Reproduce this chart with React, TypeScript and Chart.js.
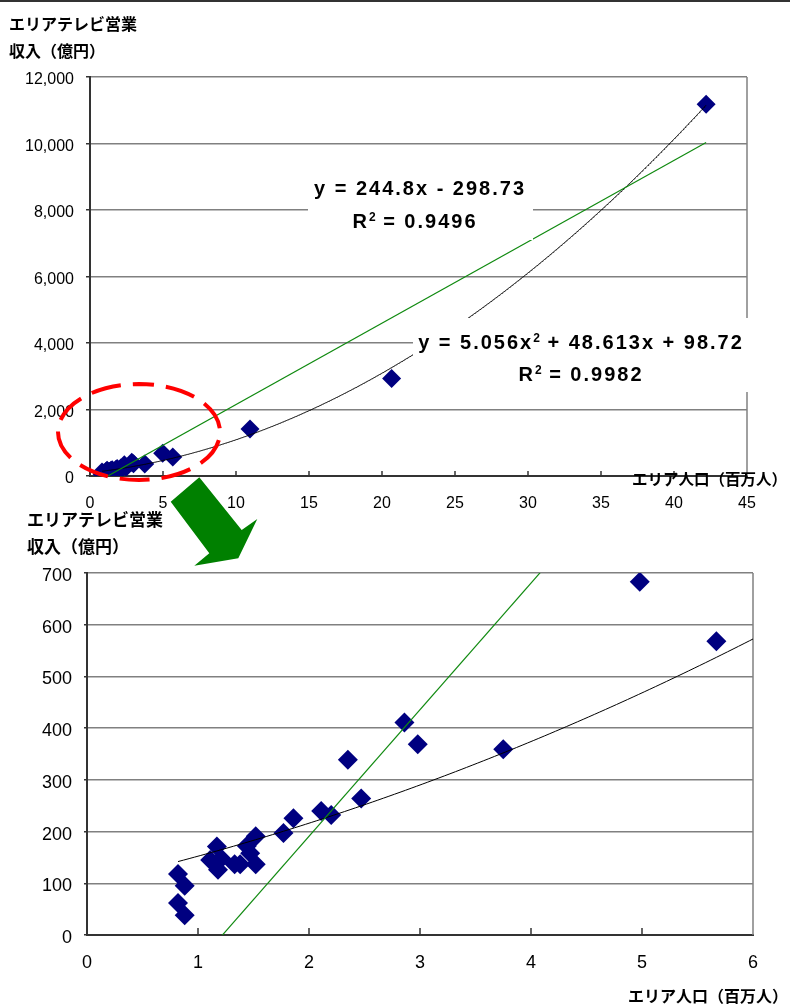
import React, { useEffect, useRef } from "react";
import { Chart, registerables } from "chart.js";

Chart.register(...registerables);

// エリア人口（百万人）
const population = [
  0.82, 0.88, 0.82, 0.88, 1.17, 1.11, 1.21, 1.18, 1.33, 1.38, 1.44, 1.47, 1.52, 1.52,
  1.77, 1.86, 2.11, 2.2, 2.35, 2.47, 2.86, 2.98, 3.75, 4.98, 5.67, 10.96, 20.66, 42.2,
];
// エリアテレビ営業収入（億円）
const revenue = [
  118, 95, 62, 38, 171, 145, 148, 126, 137, 137, 172, 158, 191, 137,
  197, 226, 240, 232, 339, 264, 411, 369, 359, 683, 568, 1410, 2930, 11180,
];

// regression results
const linearCoef = [244.8, -298.73]; // slope, intercept
const linearR2 = "0.9496";
const quadCoef = [5.056, 48.613, 98.72]; // a, b, c
const quadR2 = "0.9982";

// axis ticks
const overviewXTicks = [0, 5, 10, 15, 20, 25, 30, 35, 40, 45];
const overviewYTicks = [0, 2000, 4000, 6000, 8000, 10000, 12000];
const detailXTicks = [0, 1, 2, 3, 4, 5, 6];
const detailYTicks = [0, 100, 200, 300, 400, 500, 600, 700];

const yTitle = ["エリアテレビ営業", "収入（億円）"];
const xTitle = "エリア人口（百万人）";

const W = 790;
const H = 1005;
const NAVY = "#000080";
const GREEN = "#108a10";
const GRID = "#808080";
const AXIS = "#333333";
const LATIN = '"Liberation Sans", Arial, sans-serif';
const JP = '"Noto Sans CJK JP", sans-serif';

const points = population.map((x, i) => ({ x, y: revenue[i] }));
const xMin = Math.min(...population);
const xMax = Math.max(...population);

const linearAt = (x: number) => linearCoef[0] * x + linearCoef[1];
const quadAt = (x: number) => quadCoef[0] * x * x + quadCoef[1] * x + quadCoef[2];

function sampleCurve(fn: (x: number) => number, step: number) {
  const out: { x: number; y: number }[] = [];
  for (let x = xMin; x < xMax; x += step) out.push({ x, y: fn(x) });
  out.push({ x: xMax, y: fn(xMax) });
  return out;
}

const linearLine = [
  { x: xMin, y: linearAt(xMin) },
  { x: xMax, y: linearAt(xMax) },
];
const quadLine = sampleCurve(quadAt, 0.05);

type Run = { text: string; sup?: boolean };

function drawRuns(ctx: CanvasRenderingContext2D, runs: Run[], cx: number, cy: number) {
  ctx.save();
  ctx.textBaseline = "middle";
  ctx.textAlign = "left";
  ctx.fillStyle = "#000";
  const setFont = (sup?: boolean) => {
    ctx.font = sup ? `bold 12px ${LATIN}` : `bold 20px ${LATIN}`;
    (ctx as any).letterSpacing = sup ? "0px" : "2px";
  };
  const widths = runs.map((r) => {
    setFont(r.sup);
    return ctx.measureText(r.text).width;
  });
  const total = widths.reduce((a, b) => a + b, 0);
  let x = cx - total / 2;
  runs.forEach((r, i) => {
    setFont(r.sup);
    ctx.fillText(r.text, x, r.sup ? cy - 4.5 : cy);
    x += widths[i];
  });
  ctx.restore();
}

function drawFrame(chart: Chart, innerTick: number, tickValues: number[]) {
  const { ctx, chartArea } = chart;
  const xs = chart.scales.x;
  ctx.save();
  ctx.strokeStyle = GRID;
  ctx.lineWidth = 1.5;
  ctx.beginPath();
  ctx.moveTo(chartArea.right, chartArea.top);
  ctx.lineTo(chartArea.right, chartArea.bottom);
  ctx.stroke();
  ctx.strokeStyle = AXIS;
  ctx.lineWidth = 1.5;
  tickValues.forEach((v) => {
    const px = xs.getPixelForValue(v);
    if (px <= chartArea.left + 1 || px >= chartArea.right - 1) return;
    ctx.beginPath();
    ctx.moveTo(px, chartArea.bottom);
    ctx.lineTo(px, chartArea.bottom - innerTick);
    ctx.stroke();
  });
  ctx.restore();
}

function drawTitles(
  ctx: CanvasRenderingContext2D,
  yLeft: number,
  yTop: number,
  ySize: number,
  xLeft: number,
  xMid: number,
  xSize: number
) {
  ctx.save();
  ctx.fillStyle = "#000";
  ctx.textBaseline = "middle";
  ctx.textAlign = "left";
  ctx.font = `bold ${ySize}px ${JP}`;
  ctx.fillText(yTitle[0], yLeft, yTop);
  ctx.fillText(yTitle[1], yLeft, yTop + 27);
  ctx.font = `bold ${xSize}px ${JP}`;
  ctx.fillText(xTitle, xLeft, xMid);
  ctx.restore();
}

const overviewDecor = {
  id: "overviewDecor",
  beforeDatasetsDraw(chart: Chart) {
    drawFrame(chart, 5, overviewXTicks);
  },
  afterDatasetsDraw(chart: Chart) {
    const { ctx } = chart;
    ctx.save();
    ctx.fillStyle = "#fff";
    ctx.fillRect(308, 170, 225, 70);
    ctx.fillRect(413, 318, 345, 74);
    ctx.restore();
    drawRuns(ctx, [{ text: `y = ${linearCoef[0]}x - ${Math.abs(linearCoef[1])}` }], 420, 189);
    drawRuns(ctx, [{ text: "R" }, { text: "2", sup: true }, { text: ` = ${linearR2}` }], 415, 222.5);
    drawRuns(
      ctx,
      [
        { text: `y = ${quadCoef[0]}x` },
        { text: "2", sup: true },
        { text: ` + ${quadCoef[1]}x + ${quadCoef[2]}` },
      ],
      581,
      343.5
    );
    drawRuns(ctx, [{ text: "R" }, { text: "2", sup: true }, { text: ` = ${quadR2}` }], 581, 375.5);
  },
  afterDraw(chart: Chart) {
    const { ctx } = chart;
    drawTitles(ctx, 9, 24, 16, 632, 479, 15.5);

    ctx.save();
    // rule across the top of the page
    ctx.strokeStyle = AXIS;
    ctx.lineWidth = 2;
    ctx.beginPath();
    ctx.moveTo(0, 1);
    ctx.lineTo(W, 1);
    ctx.stroke();

    // dashed ellipse around the small areas
    ctx.strokeStyle = "#ff0000";
    ctx.lineWidth = 4;
    ctx.setLineDash([30, 12]);
    ctx.lineDashOffset = 15;
    ctx.beginPath();
    ctx.ellipse(139, 432, 81, 48, 0, -Math.PI / 2, Math.PI * 1.5);
    ctx.stroke();
    ctx.setLineDash([]);

    // arrow pointing to the enlarged view
    ctx.fillStyle = "#008000";
    ctx.beginPath();
    const arrow = [
      [170.7, 501.7],
      [199.3, 477.3],
      [241.7, 530],
      [257.3, 519],
      [238.3, 558.3],
      [194.3, 565.7],
      [209.3, 553.3],
    ];
    arrow.forEach(([x, y], i) => (i ? ctx.lineTo(x, y) : ctx.moveTo(x, y)));
    ctx.closePath();
    ctx.fill();
    ctx.restore();
  },
};

const detailDecor = {
  id: "detailDecor",
  beforeDatasetsDraw(chart: Chart) {
    drawFrame(chart, 7, detailXTicks);
  },
  afterDraw(chart: Chart) {
    drawTitles(chart.ctx, 27, 520, 17, 628, 996, 16);
  },
};

function makeConfig(
  xMaxAxis: number,
  yMaxAxis: number,
  xTicks: number[],
  yTicks: number[],
  pad: { top: number; right: number; bottom: number },
  yWidth: number,
  xHeight: number,
  fontSize: number,
  xPad: number,
  yPad: number,
  tickLen: number,
  radius: number,
  plugin: any
): any {
  return {
    type: "scatter",
    data: {
      datasets: [
        {
          data: linearLine,
          showLine: true,
          borderColor: GREEN,
          borderWidth: 1.2,
          pointRadius: 0,
          order: 1,
        },
        {
          data: quadLine,
          showLine: true,
          borderColor: "#000",
          borderWidth: 1,
          pointRadius: 0,
          order: 1,
        },
        {
          data: points,
          pointStyle: "rectRot",
          pointRadius: radius,
          backgroundColor: NAVY,
          borderColor: NAVY,
          borderWidth: 0,
          order: 2,
        },
      ],
    },
    options: {
      responsive: false,
      animation: false,
      events: [],
      layout: { padding: { left: 0, ...pad } },
      plugins: { legend: { display: false }, tooltip: { enabled: false } },
      scales: {
        x: {
          type: "linear",
          min: 0,
          max: xMaxAxis,
          afterBuildTicks: (s: any) => {
            s.ticks = xTicks.map((value) => ({ value }));
          },
          afterFit: (s: any) => {
            s.height = xHeight;
          },
          grid: { drawOnChartArea: false, drawTicks: false },
          border: { color: AXIS, width: 2 },
          ticks: {
            padding: xPad,
            color: "#000",
            maxRotation: 0,
            autoSkip: false,
            font: { family: LATIN, size: fontSize },
          },
        },
        y: {
          type: "linear",
          min: 0,
          max: yMaxAxis,
          afterBuildTicks: (s: any) => {
            s.ticks = yTicks.map((value) => ({ value }));
          },
          afterFit: (s: any) => {
            s.width = yWidth;
          },
          grid: { color: GRID, lineWidth: 1.5, tickLength: tickLen, tickColor: AXIS },
          border: { color: AXIS, width: 2 },
          ticks: {
            padding: yPad,
            labelOffset: 3,
            color: "#000",
            autoSkip: false,
            font: { family: LATIN, size: fontSize },
            callback: (v: number) => v.toLocaleString("en-US"),
          },
        },
      },
    },
    plugins: [plugin],
  };
}

export default function App() {
  const overviewRef = useRef<HTMLCanvasElement>(null);
  const detailRef = useRef<HTMLCanvasElement>(null);

  useEffect(() => {
    const overview = new Chart(
      overviewRef.current!,
      makeConfig(
        45,
        12000,
        overviewXTicks,
        overviewYTicks,
        { top: 77, right: 43, bottom: H - 476 - 64 },
        90,
        64,
        16,
        18,
        12,
        4,
        9.5,
        overviewDecor
      )
    );
    const detail = new Chart(
      detailRef.current!,
      makeConfig(
        6,
        700,
        detailXTicks,
        detailYTicks,
        { top: 573, right: 37, bottom: 0 },
        87,
        70,
        18,
        17,
        12,
        3,
        10,
        detailDecor
      )
    );
    return () => {
      overview.destroy();
      detail.destroy();
    };
  }, []);

  const canvasStyle: React.CSSProperties = {
    position: "absolute",
    left: 0,
    top: 0,
    width: W,
    height: H,
  };

  return (
    <div
      style={{
        position: "absolute",
        left: 0,
        top: 0,
        width: W,
        height: H,
        background: "#fff",
        overflow: "hidden",
      }}
    >
      <canvas ref={overviewRef} width={W} height={H} style={canvasStyle} />
      <canvas ref={detailRef} width={W} height={H} style={canvasStyle} />
    </div>
  );
}
